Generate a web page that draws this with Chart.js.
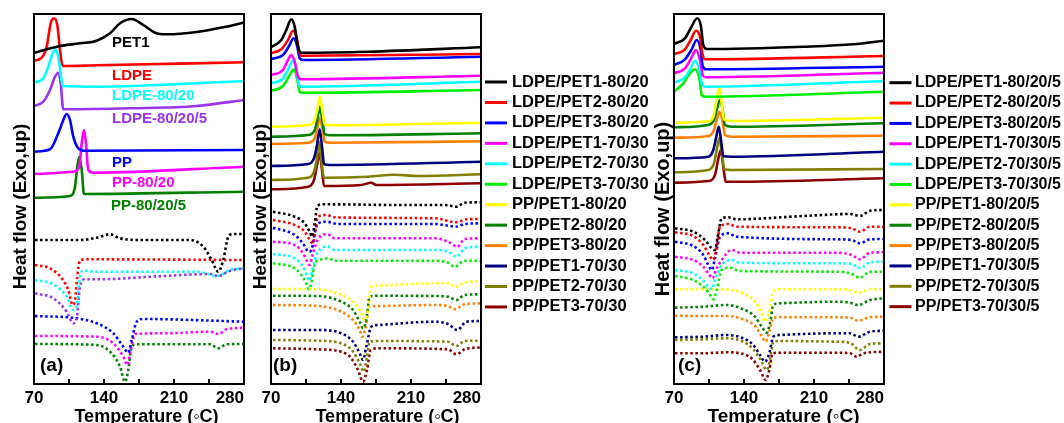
<!DOCTYPE html>
<html>
<head>
<meta charset="utf-8">
<title>DSC curves</title>
<script src="https://cdn.jsdelivr.net/npm/chart.js@4/dist/chart.umd.min.js"></script>
<style>
  html, body { margin: 0; padding: 0; background: #ffffff; }
  #wrap { position: relative; width: 1064px; height: 423px; overflow: hidden; background: #ffffff; }
  #wrap canvas { position: absolute; top: 0; }
</style>
</head>
<body>
<div id="wrap">
  <canvas id="panelA" width="260" height="423" style="left:0px"></canvas>
  <canvas id="panelB" width="420" height="423" style="left:245px"></canvas>
  <canvas id="panelC" width="414" height="423" style="left:650px"></canvas>
</div>
<script>
// ---------- axis ----------
const tempTicks = [70, 140, 210, 280];
const tempMin = 70;
const tempMax = 280;
const minorStep = 35;
const heatFlowMax = 370;   // arbitrary heat-flow units, exo up

// ---------- panel (a): neat polymers and blends ----------
const namesA = ['PET1', 'LDPE', 'LDPE-80/20', 'LDPE-80/20/5', 'PP', 'PP-80/20', 'PP-80/20/5'];
const colorsA = ['#000000', '#ff0000', '#00ffff', '#9933ee', '#0000ff', '#ff00ff', '#008000'];

// cooling scans [T, heat flow]
const coolA_PET1 = [[70,331],[92.7,337.3],[116,340.7],[132.7,343.3],[146,350.7],[156,360.7],[167.7,365],[179.3,359],[191,351.3],[202.7,349.7],[232.7,352],[259.3,356.7],[280,361.5]];
const coolA_LDPE = [[70,323.3],[77.7,326.3],[82.7,337.3],[86.7,360.7],[90,365.7],[93.3,359],[96,334],[98.7,318],[132.7,318.7],[280,321.7]];
const coolA_LDPE_8020 = [[70,301.3],[79.3,305.7],[84.3,317.3],[88.7,330.7],[92,334.7],[95.3,320.7],[98.7,298],[132.7,297.3],[280,303]];
const coolA_LDPE_80205 = [[70,278],[79.3,282.3],[86,294],[91,307.3],[94.3,311.3],[96.7,300.7],[99.3,274.7],[166,275.7],[232.7,278],[280,284]];
const coolA_PP = [[70,232.3],[86,234.7],[94.3,250.7],[99.3,264],[102.7,270],[106,264],[109.3,247.3],[114.3,235.7],[121,233.3],[280,234]];
const coolA_PP_8020 = [[70,210],[109.3,212.3],[115.3,217.3],[117.7,240.7],[120,254],[122,240.7],[124.3,214],[129.3,211.3],[280,217.3]];
const coolA_PP_80205 = [[70,186.3],[106,188],[111,197.3],[113.3,217.3],[115.3,227.3],[117.7,214],[120,190],[280,192.3]];

// heating scans [T, heat flow]
const heatA_PET1 = [[71,144],[116,144],[132.7,146.3],[146,149.7],[156,145.7],[176,144],[226,144],[239.3,137.3],[247.7,124],[254.3,112.3],[259.3,124],[264.3,147.3],[269.3,150],[280,150]];
const heatA_LDPE = [[71,119],[86,115.7],[97.7,105.7],[104.3,94],[108.7,79],[111,84],[113.3,107.3],[116,123.3],[121,124.7],[280,124]];
const heatA_LDPE_8020 = [[71,104],[89.3,99.7],[102.7,87.3],[109.3,74],[112.7,77.3],[116,107.3],[119.3,113.3],[132.7,112.3],[232.7,112.3],[254.3,108],[266,114],[280,115.7]];
const heatA_LDPE_80205 = [[71,90.7],[89.3,85.7],[102.7,72.3],[109.3,60.7],[112.7,65.7],[116,97.3],[121,104.7],[132.7,104.7],[199.3,108],[246,110],[254.3,108],[266,113.3],[280,115.7]];
const heatA_PP = [[71,68],[112.7,65.7],[132.7,60.7],[149.3,50.7],[159.3,37.3],[164.3,31.3],[167.7,44],[172.7,62.3],[179.3,65],[280,62.3]];
const heatA_PP_8020 = [[71,48],[132.7,47.3],[149.3,40.7],[159.3,27.3],[163.3,19],[166.7,34],[171,50],[199.3,50.7],[246,52.3],[254.3,50],[262.7,54.7],[280,56.3]];
const heatA_PP_80205 = [[71,40],[132.7,39],[147.7,30.7],[156,17.3],[161,2.3],[164.3,14],[167.7,37.3],[172.7,39.7],[246,39.7],[254.3,35.7],[262.7,39.7],[280,40]];

// ---------- panels (b) and (c): shared colours ----------
const colorsBC = ['#000000', '#ff0000', '#0000ff', '#ff00ff', '#00ffff', '#00ee00',
                  '#ffff00', '#008000', '#ff8000', '#000080', '#808000', '#8b0000'];

// ---------- panel (b): binary blends ----------
const namesB = ['LDPE/PET1-80/20', 'LDPE/PET2-80/20', 'LDPE/PET3-80/20', 'LDPE/PET1-70/30',
                'LDPE/PET2-70/30', 'LDPE/PET3-70/30', 'PP/PET1-80/20', 'PP/PET2-80/20',
                'PP/PET3-80/20', 'PP/PET1-70/30', 'PP/PET2-70/30', 'PP/PET3-70/30'];

const coolB_LDPE_PET1_82 = [[70,336.7],[80.3,344],[85.3,354],[90.3,364.7],[93.7,357.3],[97,337.3],[100.3,331.3],[167,332.3],[280,336.7]];
const coolB_LDPE_PET2_82 = [[70,330.7],[80.3,334.7],[87,344],[92,353.3],[95.3,347.3],[98,334],[100.3,328.3],[280,330]];
const coolB_LDPE_PET3_82 = [[70,325],[82,329],[87.7,337.3],[92.7,345.7],[96.3,337.3],[98.7,325.7],[102,324],[280,327.3]];
const coolB_LDPE_PET1_73 = [[70,309],[82,314],[87,324],[90.3,329],[93.7,322.3],[97,307.3],[100.3,304.7],[280,308.3]];
const coolB_LDPE_PET2_73 = [[70,300.7],[82,305.7],[87.7,315.7],[92,323.3],[95.3,314],[97.7,300],[100.3,297.3],[280,302.3]];
const coolB_LDPE_PET3_73 = [[70,293.3],[82,298],[87.7,307.3],[93,314.7],[96.3,304],[98.7,292.3],[102,291.3],[280,294]];
const coolB_PP_PET1_82 = [[70,257.3],[107,259],[113.7,264],[116.3,274],[118.7,287.3],[121.3,274],[123.7,260],[128.7,258.7],[280,261.3]];
const coolB_PP_PET2_82 = [[70,247.3],[107,249],[113.7,254],[116.3,264],[118.7,277.3],[121.3,264],[123.7,250],[128.7,248.7],[280,250.7]];
const coolB_PP_PET3_82 = [[70,240],[107,241.3],[113.7,245.7],[116.3,255.7],[118.7,265.7],[121.3,255.7],[123.7,242.3],[128.7,241.3],[280,242.7]];
const coolB_PP_PET1_73 = [[70,218],[107,220],[113,225.7],[115.7,237.3],[118.7,254.7],[121,237.3],[123,220],[128.7,219],[280,222.3]];
const coolB_PP_PET2_73 = [[70,204],[107,206.3],[113,212.3],[115.7,224],[118,242.3],[120.3,224],[123,206.3],[167,207.3],[193.7,209.3],[217,208],[280,209.7]];
const coolB_PP_PET3_73 = [[70,194.7],[107,197.3],[113,204],[115.7,217.3],[118.7,230.7],[121,214],[123,198],[160.3,199],[170.3,201.3],[175.3,199],[280,200.7]];

const heatB_LDPE_PET1_82 = [[72,172.3],[93.7,167.3],[103.7,160.7],[108.7,152.3],[111,147.3],[113.7,160.7],[116.3,178],[122,179.7],[200.3,179],[243.7,179],[255.3,177.3],[263.7,181.3],[280,181.7]];
const heatB_LDPE_PET2_82 = [[72,164],[93.7,159],[103.7,152.3],[108.7,144],[112,140.7],[114.7,157.3],[117,167.3],[125.3,169],[133.7,166.7],[233.7,165.7],[255.3,161.7],[265.3,164.7],[280,165]];
const heatB_LDPE_PET3_82 = [[72,156.3],[93.7,149],[102,140.7],[107.7,132.3],[111,135.7],[113.7,150.7],[117,160.7],[125.3,162.3],[137,160],[233.7,160],[255.3,157.5],[263.7,160],[280,160.7]];
const heatB_LDPE_PET1_73 = [[72,142.3],[93.7,139],[102,130.7],[106.3,122.3],[108.7,119],[112,130.7],[117,144.7],[126.3,149.7],[133.7,145.7],[233.7,145.7],[247,142.3],[256.3,137.3],[263.7,145],[280,145.7]];
const heatB_LDPE_PET2_73 = [[72,130],[93.7,125.7],[102,117.3],[106.3,107.3],[108.7,103.3],[111.3,114],[117,132.3],[127,137.3],[133.7,134],[233.7,134],[247,132.3],[255.3,127.3],[263.7,135.7],[280,137.3]];
const heatB_LDPE_PET3_73 = [[72,120.7],[93.7,115.7],[100.3,109],[105.3,100.7],[107.7,94.7],[110.3,100.7],[113.7,120],[118.7,124],[127,125.7],[133.7,123.3],[233.7,123.3],[247,121.3],[253.7,117.3],[263.7,123.3],[280,123.3]];
const heatB_PP_PET1_82 = [[72,95],[117,94.7],[140.3,89],[153.7,80.7],[160.3,70.7],[163.7,64],[167,74],[170.3,97.3],[177,98.3],[233.7,100.7],[247,100.7],[255.3,97.3],[263.7,101.3],[280,103.3]];
const heatB_PP_PET2_82 = [[72,88.3],[117,88],[140.3,82.3],[152,74],[158.7,62.3],[162,55.7],[165.3,64],[168.7,87.3],[177,88.3],[233.7,88],[247,87.3],[255.3,84],[263.7,89],[280,89.7]];
const heatB_PP_PET3_82 = [[72,79],[117,78],[140.3,72.3],[152,64],[158.7,54],[161.3,47.3],[164.7,57.3],[168,77.3],[177,78],[233.7,79],[247,78],[253.7,74.7],[263.7,79.7],[280,80.7]];
const heatB_PP_PET1_73 = [[72,54],[117,54],[140.3,50.7],[152,42.3],[158.7,30.7],[162,24],[165.3,37.3],[170.3,57.3],[177,59],[233.7,62.3],[247,60],[256.3,54],[265.3,62.3],[280,63]];
const heatB_PP_PET2_73 = [[72,44],[117,43.3],[140.3,40.7],[152,32.3],[158.7,20.7],[162.7,12.3],[166,27.3],[168.7,42.3],[177,43],[247,42.3],[255.3,38],[263.7,43],[280,43.3]];
const heatB_PP_PET3_73 = [[72,35.7],[117,34.7],[140.3,32.3],[150.3,25.7],[157,14],[162,2.3],[166,14],[169.7,34],[177,35.7],[247,34.7],[255.3,29.7],[263.7,34.7],[280,36.7]];

// ---------- panel (c): compatibilised blends ----------
const namesC = ['LDPE/PET1-80/20/5', 'LDPE/PET2-80/20/5', 'LDPE/PET3-80/20/5', 'LDPE/PET1-70/30/5',
                'LDPE/PET2-70/30/5', 'LDPE/PET3-70/30/5', 'PP/PET1-80/20/5', 'PP/PET2-80/20/5',
                'PP/PET3-80/20/5', 'PP/PET1-70/30/5', 'PP/PET2-70/30/5', 'PP/PET3-70/30/5'];

const coolC_LDPE_PET1_82 = [[70,340],[81,345.7],[86.7,355.7],[93.3,365.7],[96.7,359],[99.3,339],[102.7,335],[199.3,337.3],[249.3,339.7],[280,343.3]];
const coolC_LDPE_PET2_82 = [[70,329.7],[81,334.7],[86.7,344],[92,353.3],[96,347.3],[98.3,330.7],[101,324.7],[280,328]];
const coolC_LDPE_PET3_82 = [[70,319],[81,324.7],[87.7,334.7],[92.7,344],[96.7,334],[98.7,318],[102,314.7],[280,317.3]];
const coolC_LDPE_PET1_73 = [[70,310.7],[81,315.7],[87.7,326.7],[92,334],[96,324],[98.7,309],[102,306.7],[280,311.3]];
const coolC_LDPE_PET2_73 = [[70,301.3],[81,306.7],[86.7,315.7],[91,323.3],[95.3,314.7],[98,300],[102,297.3],[280,303]];
const coolC_LDPE_PET3_73 = [[70,292.3],[79.3,300.7],[86,310.7],[91,314.7],[95.3,305.7],[97.7,289],[101,287.3],[280,292.3]];
const coolC_PP_PET1_82 = [[70,261.3],[104.3,262.7],[109.3,267.3],[112,280.7],[115.3,296.7],[117.7,280.7],[120,264.7],[126,263],[280,266.3]];
const coolC_PP_PET2_82 = [[70,256.7],[104.3,259],[110,264],[112.7,274],[116,284],[118.7,274],[121,259],[127.7,257.3],[280,260.7]];
const coolC_PP_PET3_82 = [[70,246.3],[104.3,248],[110,254],[112.7,264],[115.3,272.3],[118.3,264],[121,249],[127.7,247.3],[280,248.3]];
const coolC_PP_PET1_73 = [[70,225.7],[104.3,227.3],[109.3,234],[112,245.7],[114.7,257.3],[117,244],[119.3,228],[127.7,227.3],[280,232.3]];
const coolC_PP_PET2_73 = [[70,211.7],[104.3,214],[110,220.7],[112.7,234],[115.3,245.7],[118,230.7],[120.3,214.7],[127.7,214],[280,215]];
const coolC_PP_PET3_73 = [[70,201.3],[104.3,203],[111,209],[113.7,222.3],[116.7,234],[119.3,217.3],[121.7,202.3],[127.7,202.3],[280,205.7]];

const heatC_LDPE_PET1_82 = [[71,155.7],[89.3,152.3],[101,144],[107.7,135.7],[111,134],[113.7,147.3],[117.7,165.7],[124.3,166.7],[132.7,164.7],[199.3,168],[246,170],[256,168],[266,173.3],[280,174]];
const heatC_LDPE_PET2_82 = [[71,151.7],[89.3,148],[99.3,139],[105.3,129],[109.3,124],[112.7,137.3],[116,157.3],[124.3,160],[132.7,157.3],[232.7,156.7],[247.7,155.7],[256,152.3],[266,157.3],[280,157.3]];
const heatC_LDPE_PET3_82 = [[71,142.3],[89.3,138],[99.3,129],[104.3,119],[107.7,114],[111,125.7],[116,147.3],[124.3,150.7],[132.7,147.3],[232.7,144.7],[247.7,144],[256,140.7],[266,144.7],[280,145]];
const heatC_LDPE_PET1_73 = [[71,127.3],[89.3,124],[99.3,117.3],[105.3,109],[108.7,105.7],[112,114],[117.7,124],[127.7,134],[136,131.3],[232.7,131.3],[247.7,129],[256,124.7],[266,131.3],[280,131.7]];
const heatC_LDPE_PET2_73 = [[71,114],[89.3,110.7],[99.3,103.3],[104.3,97.3],[107.7,94.7],[111,104],[117.7,119],[127.7,124],[136,121.3],[232.7,120.7],[247.7,120],[256,115.7],[266,121.7],[280,122.3]];
const heatC_LDPE_PET3_73 = [[71,108],[89.3,104],[99.3,97.3],[105.3,90.7],[109.3,84.7],[112.7,94],[117.7,114],[126,116.3],[136,113],[232.7,112.3],[246,110.7],[256,106.3],[266,112.3],[280,112.3]];
const heatC_PP_PET1_82 = [[71,94.7],[116,94.7],[139.3,90.7],[151,82.3],[157.7,70.7],[161,62.3],[165,70.7],[169.3,92.3],[176,94.7],[232.7,94.7],[246,94],[254.3,91.3],[266,94.7],[280,95]];
const heatC_PP_PET2_82 = [[71,76.3],[99.3,77.3],[122.7,79],[139.3,74.7],[151,67.3],[157.7,57.3],[162.7,51.3],[166,60.7],[169.3,79],[176,80.7],[232.7,82.3],[246,81.3],[254.3,79],[266,84],[280,85.7]];
const heatC_PP_PET3_82 = [[71,68.3],[99.3,68],[122.7,68],[139.3,64.7],[151,58],[157.7,48],[161.7,42.3],[165.3,52.3],[169.3,66.3],[176,66.7],[232.7,66.7],[246,66.3],[254.3,63.3],[266,66.7],[280,67.3]];
const heatC_PP_PET1_73 = [[71,46.7],[99.3,47.3],[122.7,49],[139.3,45.7],[149.3,39],[156,29],[161,22.3],[165.3,30.7],[169.3,47.3],[176,49],[232.7,50.7],[246,50.7],[254.3,47.3],[266,52.3],[280,53.3]];
const heatC_PP_PET2_73 = [[71,44],[99.3,44.7],[122.7,45.7],[139.3,42.3],[149.3,34.7],[156.7,24],[162.7,14],[166,24],[169.3,42.3],[176,43],[232.7,42.3],[246,41.3],[255.3,34],[266,40],[280,40.7]];
const heatC_PP_PET3_73 = [[71,30.7],[99.3,30.7],[122.7,31.7],[139.3,30],[149.3,24],[156,14],[161.7,4],[165.3,14],[168.7,30.7],[176,31.3],[232.7,31.3],[246,30.7],[252.7,27.3],[259.3,30.7],[280,32.3]];

// ---------- assemble ----------
const coolA = [coolA_PET1, coolA_LDPE, coolA_LDPE_8020, coolA_LDPE_80205, coolA_PP, coolA_PP_8020, coolA_PP_80205];
const heatA = [heatA_PET1, heatA_LDPE, heatA_LDPE_8020, heatA_LDPE_80205, heatA_PP, heatA_PP_8020, heatA_PP_80205];
const coolB = [coolB_LDPE_PET1_82, coolB_LDPE_PET2_82, coolB_LDPE_PET3_82, coolB_LDPE_PET1_73, coolB_LDPE_PET2_73, coolB_LDPE_PET3_73,
               coolB_PP_PET1_82, coolB_PP_PET2_82, coolB_PP_PET3_82, coolB_PP_PET1_73, coolB_PP_PET2_73, coolB_PP_PET3_73];
const heatB = [heatB_LDPE_PET1_82, heatB_LDPE_PET2_82, heatB_LDPE_PET3_82, heatB_LDPE_PET1_73, heatB_LDPE_PET2_73, heatB_LDPE_PET3_73,
               heatB_PP_PET1_82, heatB_PP_PET2_82, heatB_PP_PET3_82, heatB_PP_PET1_73, heatB_PP_PET2_73, heatB_PP_PET3_73];
const coolC = [coolC_LDPE_PET1_82, coolC_LDPE_PET2_82, coolC_LDPE_PET3_82, coolC_LDPE_PET1_73, coolC_LDPE_PET2_73, coolC_LDPE_PET3_73,
               coolC_PP_PET1_82, coolC_PP_PET2_82, coolC_PP_PET3_82, coolC_PP_PET1_73, coolC_PP_PET2_73, coolC_PP_PET3_73];
const heatC = [heatC_LDPE_PET1_82, heatC_LDPE_PET2_82, heatC_LDPE_PET3_82, heatC_LDPE_PET1_73, heatC_LDPE_PET2_73, heatC_LDPE_PET3_73,
               heatC_PP_PET1_82, heatC_PP_PET2_82, heatC_PP_PET3_82, heatC_PP_PET1_73, heatC_PP_PET2_73, heatC_PP_PET3_73];

const FONT = "'Liberation Sans', Arial, Helvetica, sans-serif";
const Y_TITLE = 'Heat flow (Exo,up)';
const X_TITLE = 'Temperature (\u25E6C)';

Chart.defaults.font.family = FONT;
Chart.defaults.color = '#000';

// frame, inner ticks, titles, panel tag, in-plot names and legend
const panelDecor = {
  id: 'panelDecor',
  afterDraw(chart, args, o) {
    const {ctx, chartArea: ca, scales: {x, y}} = chart;
    ctx.save();
    ctx.strokeStyle = '#000';
    ctx.lineWidth = 2;
    ctx.strokeRect(ca.left, ca.top, ca.right - ca.left, ca.bottom - ca.top);
    for (let v = tempMin + minorStep; v < tempMax; v += minorStep) {
      const px = x.getPixelForValue(v);
      ctx.beginPath();
      ctx.moveTo(px, ca.bottom);
      ctx.lineTo(px, ca.bottom - 5);
      ctx.stroke();
    }
    ctx.fillStyle = '#000';
    // y title
    ctx.save();
    ctx.font = 'bold ' + o.yTitleSize + 'px ' + FONT;
    ctx.translate(o.yTitleX, o.yTitleY);
    ctx.rotate(-Math.PI / 2);
    ctx.textAlign = 'center';
    ctx.textBaseline = 'alphabetic';
    ctx.fillText(Y_TITLE, 0, 0);
    ctx.restore();
    // x title
    ctx.font = 'bold ' + o.xTitleSize + 'px ' + FONT;
    ctx.textAlign = 'center';
    ctx.textBaseline = 'alphabetic';
    ctx.fillText(X_TITLE, o.xTitleX, o.xTitleY);
    // panel tag
    ctx.font = 'bold 19px ' + FONT;
    ctx.textAlign = 'left';
    ctx.textBaseline = 'middle';
    ctx.fillText(o.tag, o.tagX, 365.5);
    // curve names inside the plot
    (o.notes || []).forEach(n => {
      ctx.font = 'bold 15px ' + FONT;
      ctx.fillStyle = n.color;
      ctx.fillText(n.text, x.getPixelForValue(n.t), y.getPixelForValue(n.h));
    });
    // legend
    if (o.legend) {
      const L = o.legend;
      ctx.font = 'bold ' + L.size + 'px ' + FONT;
      L.names.forEach((name, i) => {
        const yy = L.top + i * L.step;
        ctx.strokeStyle = L.colors[i];
        ctx.lineWidth = 3;
        ctx.beginPath();
        ctx.moveTo(L.x, yy);
        ctx.lineTo(L.x + 22, yy);
        ctx.stroke();
        ctx.fillStyle = '#000';
        ctx.fillText(name, L.textX, yy);
      });
    }
    ctx.restore();
  }
};

function buildDatasets(names, colors, cool, heat) {
  const toXY = arr => arr.map(p => ({x: p[0], y: p[1]}));
  const sets = [];
  names.forEach((name, i) => {
    sets.push({
      label: name + ' (heating)', data: toXY(heat[i]), borderColor: colors[i],
      borderWidth: 2.6, borderDash: [2.5, 2.6], pointRadius: 0, fill: false,
      cubicInterpolationMode: 'monotone'
    });
  });
  names.forEach((name, i) => {
    sets.push({
      label: name, data: toXY(cool[i]), borderColor: colors[i],
      borderWidth: 2.6, pointRadius: 0, fill: false,
      cubicInterpolationMode: 'monotone'
    });
  });
  return sets;
}

function makePanel(id, names, colors, cool, heat, pad, decor) {
  return new Chart(document.getElementById(id), {
    type: 'line',
    data: {datasets: buildDatasets(names, colors, cool, heat)},
    options: {
      responsive: false,
      maintainAspectRatio: false,
      animation: false,
      events: [],
      layout: {padding: {left: pad.left, right: pad.right, top: 14, bottom: 0}},
      scales: {
        x: {
          type: 'linear', min: tempMin, max: tempMax,
          afterBuildTicks: s => { s.ticks = [tempTicks[0]].concat(tempTicks).map(v => ({value: v})); },
          afterFit: s => { s.height = 39; s.paddingLeft = 0; s.paddingRight = 0; },
          grid: {display: false, drawTicks: false},
          border: {display: false},
          ticks: {
            autoSkip: false, maxRotation: 0, minRotation: 0, align: 'inner', padding: 4,
            color: '#000', font: {size: 17, weight: 'bold', lineHeight: 1.2},
            callback: (v, i) => (i === 0 ? '' : String(v))
          }
        },
        y: {type: 'linear', display: false, min: 0, max: heatFlowMax}
      },
      plugins: {
        legend: {display: false},
        tooltip: {enabled: false},
        panelDecor: decor
      }
    },
    plugins: [panelDecor]
  });
}

// panel (a)
const notePosA = [[148, 341.5], [148, 308.2], [148, 287.7], [148, 265], [148, 221.5], [148, 201.5], [147, 178.2]];
makePanel('panelA', namesA, colorsA, coolA, heatA, {left: 34, right: 16}, {
  yTitleX: 25.5, yTitleY: 206.5, yTitleSize: 19,
  xTitleX: 146.5, xTitleY: 422, xTitleSize: 18,
  tag: '(a)', tagX: 40,
  notes: namesA.map((n, i) => ({text: n, color: colorsA[i], t: notePosA[i][0], h: notePosA[i][1]}))
});

// panel (b)
makePanel('panelB', namesB, colorsBC, coolB, heatB, {left: 26, right: 184}, {
  yTitleX: 21, yTitleY: 206.5, yTitleSize: 19,
  xTitleX: 142.5, xTitleY: 422, xTitleSize: 18,
  tag: '(b)', tagX: 28,
  legend: {names: namesB, colors: colorsBC, x: 240, textX: 267, top: 82, step: 20.45, size: 16.5}
});

// panel (c)
makePanel('panelC', namesC, colorsBC, coolC, heatC, {left: 24, right: 180}, {
  yTitleX: 19, yTitleY: 209, yTitleSize: 20,
  xTitleX: 133.5, xTitleY: 422, xTitleSize: 19,
  tag: '(c)', tagX: 28,
  legend: {names: namesC, colors: colorsBC, x: 239.5, textX: 265, top: 82.7, step: 20.36, size: 16}
});
</script>
</body>
</html>
